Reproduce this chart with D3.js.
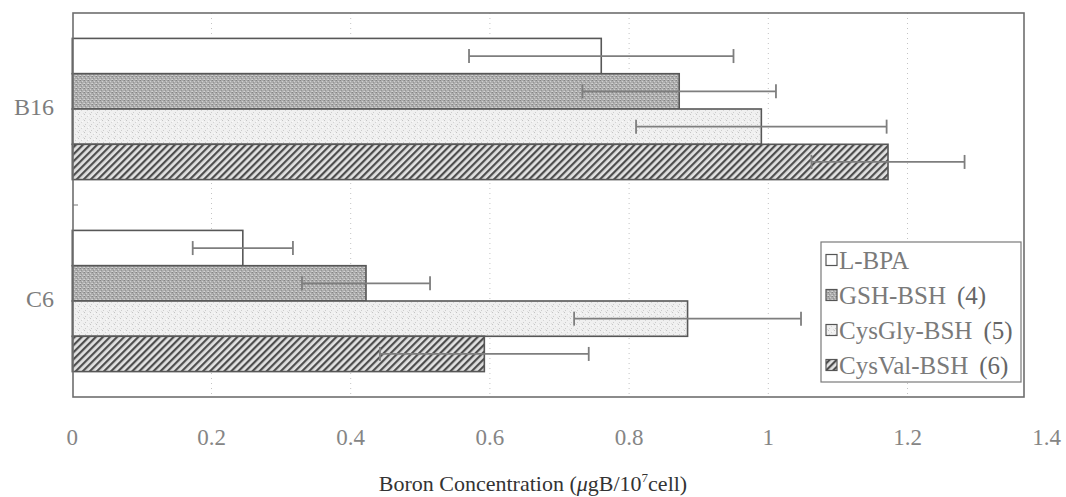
<!DOCTYPE html>
<html><head><meta charset="utf-8">
<script src="https://cdn.jsdelivr.net/npm/d3@7"></script>
<style>body{margin:0;background:#fff}svg{display:block}</style>
</head><body>
<script>
const categories = ["B16", "C6"];
const seriesNames = ["L-BPA", "GSH-BSH", "CysGly-BSH", "CysVal-BSH"];
const seriesNums = ["", "(4)", "(5)", "(6)"];
const lbpa = [0.76, 0.245];
const gsh = [0.872, 0.422];
const cysgly = [0.99, 0.884];
const cysval = [1.172, 0.592];
const lbpaErr = [0.19, 0.072];
const gshErr = [0.139, 0.092];
const cysglyErr = [0.18, 0.163];
const cysvalErr = [0.11, 0.15];
const xTicks = [0, 0.2, 0.4, 0.6, 0.8, 1, 1.2, 1.4];
const gridTicks = [0.2, 0.4, 0.6, 0.8, 1, 1.2];

const values = [lbpa, gsh, cysgly, cysval];
const errs = [lbpaErr, gshErr, cysglyErr, cysvalErr];

const W = 1066, H = 497;
const svg = d3.select("body").append("svg").attr("width", W).attr("height", H);
const defs = svg.append("defs");

// patterns
const pGsh = defs.append("pattern").attr("id", "pGsh").attr("patternUnits", "userSpaceOnUse").attr("width", 4).attr("height", 4);
pGsh.append("rect").attr("width", 4).attr("height", 4).attr("fill", "#adadad");
[[0,0,"#858585"],[2,1,"#cfcfcf"],[1,2,"#949494"],[3,3,"#c6c6c6"],[3,0,"#9c9c9c"],[0,3,"#d4d4d4"]].forEach(([a,b,c]) =>
  pGsh.append("rect").attr("x", a).attr("y", b).attr("width", 1).attr("height", 1).attr("fill", c));

const pGly = defs.append("pattern").attr("id", "pGly").attr("patternUnits", "userSpaceOnUse").attr("width", 6).attr("height", 6);
pGly.append("rect").attr("width", 6).attr("height", 6).attr("fill", "#f0f0f0");
[[0,0,"#c4c4c4"],[3,2,"#d4d4d4"],[1,4,"#cccccc"],[5,5,"#dedede"],[4,1,"#fafafa"]].forEach(([a,b,c]) =>
  pGly.append("rect").attr("x", a).attr("y", b).attr("width", 1).attr("height", 1).attr("fill", c));

const pVal = defs.append("pattern").attr("id", "pVal").attr("patternUnits", "userSpaceOnUse")
  .attr("width", 5).attr("height", 5).attr("patternTransform", "rotate(45)");
pVal.append("rect").attr("width", 5).attr("height", 5).attr("fill", "#e2e2e2");
pVal.append("rect").attr("width", 2.2).attr("height", 5).attr("fill", "#4e4e4e");

const fills = ["#ffffff", "url(#pGsh)", "url(#pGly)", "url(#pVal)"];

const pLeft = 73, pRight = 1024, pTop = 13, pBottom = 397;
const x = d3.scaleLinear().domain([0, 1.4]).range([72.3, 1046.7]);
const y = d3.scaleBand().domain(categories).range([pTop, pBottom]).padding(0);
const ys = d3.scaleBand().domain(seriesNames).range([0, y.bandwidth()]).paddingInner(0).paddingOuter(0.72);

// gridlines
svg.append("g").selectAll("line").data(gridTicks).join("line")
  .attr("x1", d => x(d)).attr("x2", d => x(d)).attr("y1", pTop).attr("y2", pBottom)
  .attr("stroke", "#c4c4c4").attr("stroke-width", 1).attr("stroke-dasharray", "1,4");

// bars
const gBars = svg.append("g");
categories.forEach((c, ci) => {
  seriesNames.forEach((s, si) => {
    gBars.append("rect")
      .attr("x", x(0)).attr("y", y(c) + ys(s))
      .attr("width", x(values[si][ci]) - x(0)).attr("height", ys.bandwidth())
      .attr("fill", fills[si]).attr("stroke", "#575757").attr("stroke-width", 1.6);
  });
});

// error bars
const gErr = svg.append("g").attr("stroke", "#7e7e7e").attr("stroke-width", 1.8);
categories.forEach((c, ci) => {
  seriesNames.forEach((s, si) => {
    const v = values[si][ci], e = errs[si][ci];
    const cy = y(c) + ys(s) + ys.bandwidth() / 2;
    gErr.append("line").attr("x1", x(v - e)).attr("x2", x(v + e)).attr("y1", cy).attr("y2", cy);
    [v - e, v + e].forEach(t => gErr.append("line").attr("x1", x(t)).attr("x2", x(t)).attr("y1", cy - 7).attr("y2", cy + 7));
  });
});

// frame
svg.append("rect").attr("x", pLeft).attr("y", pTop).attr("width", pRight - pLeft).attr("height", pBottom - pTop)
  .attr("fill", "none").attr("stroke", "#6e6e6e").attr("stroke-width", 1.6);
// category boundary tick
svg.append("line").attr("x1", pLeft).attr("x2", pLeft + 5).attr("y1", y("C6")).attr("y2", y("C6"))
  .attr("stroke", "#777").attr("stroke-width", 1);

// x tick labels
svg.append("g").selectAll("text").data(xTicks).join("text")
  .attr("x", d => x(d)).attr("y", 445).attr("text-anchor", "middle")
  .attr("font-family", "Liberation Serif, serif").attr("font-size", 23).attr("fill", "#858585")
  .text(d => d3.format("~g")(d));

// category labels
svg.append("g").selectAll("text").data(categories).join("text")
  .attr("x", 54).attr("y", d => y(d) + y.bandwidth() / 2 + 6).attr("text-anchor", "end")
  .attr("font-family", "Liberation Serif, serif").attr("font-size", 24).attr("fill", "#7d7d7d")
  .text(d => d);

// axis title
const title = svg.append("text").attr("x", 533).attr("y", 491).attr("text-anchor", "middle")
  .attr("font-family", "Liberation Serif, serif").attr("font-size", 22).attr("fill", "#333");
title.append("tspan").text("Boron Concentration (");
title.append("tspan").attr("font-style", "italic").text("μ");
title.append("tspan").text("gB/10");
title.append("tspan").attr("font-size", 13).attr("dy", -9).text("7");
title.append("tspan").attr("dy", 9).text("cell)");

// legend
const lg = svg.append("g");
const lgX = 821, lgY = 242, lgW = 200, rowH = 35;
lg.append("rect").attr("x", lgX).attr("y", lgY).attr("width", lgW).attr("height", rowH * 4)
  .attr("fill", "#fff").attr("stroke", "#7a7a7a").attr("stroke-width", 1.2);
seriesNames.forEach((s, i) => {
  const cy = lgY + rowH * i + rowH / 2 + 1;
  lg.append("rect").attr("x", 826).attr("y", cy - 6).attr("width", 11).attr("height", 11)
    .attr("fill", fills[i]).attr("stroke", "#555").attr("stroke-width", 1.2);
  const t = lg.append("text").attr("x", 839).attr("y", cy + 8)
    .attr("font-family", "Liberation Serif, serif").attr("font-size", 25).attr("fill", "#7a7a7a");
  t.append("tspan").text(s);
  if (seriesNums[i]) t.append("tspan").attr("dx", 11).attr("fill", "#666").text(seriesNums[i]);
});
</script>
</body></html>
